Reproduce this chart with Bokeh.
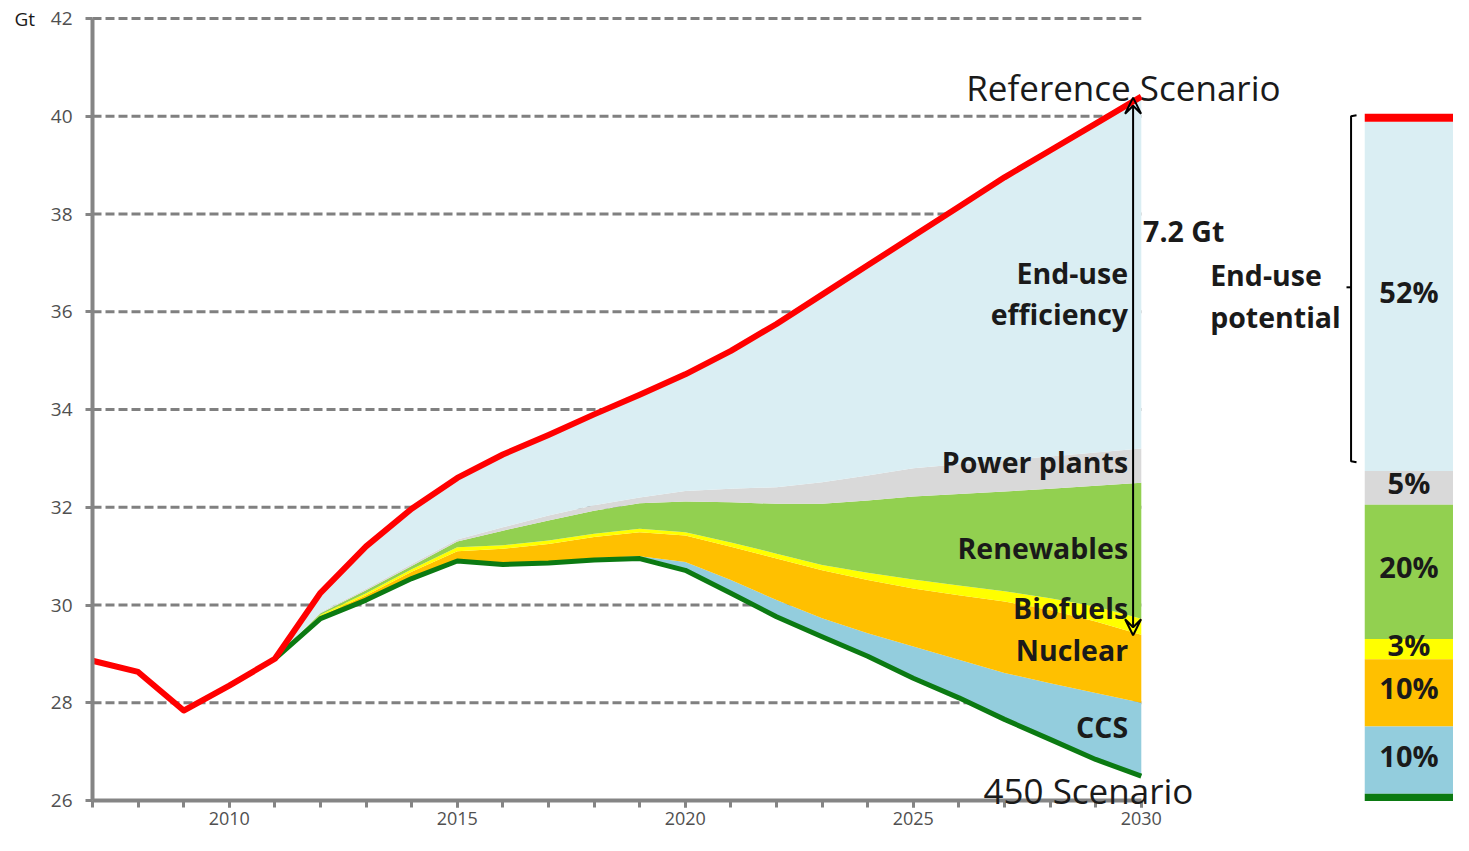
import numpy as np
from bokeh.plotting import figure
from bokeh.models import Label, Arrow, VeeHead, FixedTicker, LinearAxis
from bokeh.embed import file_html
from bokeh.resources import INLINE

# ---------------- data (Gt CO2) ----------------
years_ref = list(range(2007, 2031))
reference = [28.86, 28.63, 27.84, 28.35, 28.90, 30.25, 31.20, 31.97, 32.60, 33.08,
             33.48, 33.90, 34.30, 34.72, 35.20, 35.75, 36.35, 36.95, 37.55, 38.15,
             38.75, 39.30, 39.85, 40.40]

years_450 = list(range(2011, 2031))
scenario_450 = [28.90, 29.72, 30.10, 30.54, 30.90, 30.83, 30.86, 30.92, 30.95, 30.71,
                30.24, 29.76, 29.35, 28.95, 28.50, 28.10, 27.66, 27.25, 26.84, 26.50]
# abatement wedges stacked on top of the 450 Scenario line
ccs = [0.00, 0.01, 0.02, 0.02, 0.03, 0.03, 0.03, 0.04, 0.05, 0.17,
       0.27, 0.34, 0.38, 0.47, 0.65, 0.78, 0.95, 1.15, 1.36, 1.50]
nuclear = [0.00, 0.04, 0.08, 0.12, 0.17, 0.29, 0.36, 0.43, 0.49, 0.54,
           0.68, 0.85, 0.98, 1.09, 1.19, 1.32, 1.46, 1.50, 1.46, 1.39]
biofuels = [0.00, 0.03, 0.04, 0.05, 0.08, 0.07, 0.07, 0.07, 0.07, 0.07,
            0.09, 0.10, 0.11, 0.15, 0.18, 0.20, 0.21, 0.24, 0.31, 0.33]
renewables = [0.00, 0.03, 0.06, 0.07, 0.12, 0.30, 0.41, 0.47, 0.52, 0.63,
              0.82, 1.02, 1.25, 1.48, 1.70, 1.87, 2.04, 2.24, 2.47, 2.78]
power_plants = [0.00, 0.02, 0.03, 0.04, 0.04, 0.07, 0.10, 0.11, 0.12, 0.21,
                0.28, 0.34, 0.44, 0.51, 0.58, 0.61, 0.64, 0.66, 0.68, 0.70]

# share of total abatement in 2030 (right-hand bar), top to bottom
share_labels = ["End-use efficiency", "Power plants", "Renewables", "Biofuels", "Nuclear", "CCS"]
shares = [52, 5, 20, 3, 10, 10]

y_ticks = [26, 28, 30, 32, 34, 36, 38, 40, 42]
x_major = [2010, 2015, 2020, 2025, 2030]

# ---------------- styles ----------------
C_EFF = "#DAEEF3"
C_PP = "#D9D9D9"
C_REN = "#92D050"
C_BIO = "#FFFF00"
C_NUC = "#FFC000"
C_CCS = "#93CDDD"
C_RED = "#FF0000"
C_GRN = "#0B7A12"
AX = "#858585"
TXT = "#1a1a1a"
FONT = "Open Sans"

W, H = 1453, 835
PX_YR, PX_GT = 45.6, 48.875
X0 = 2007 - 92 / PX_YR
Y1 = 42 + 18 / PX_GT

p = figure(width=W, height=H, output_backend="svg", toolbar_location=None,
           x_range=(X0, X0 + W / PX_YR), y_range=(Y1 - H / PX_GT, Y1),
           x_axis_location=None, y_axis_location=None,
           min_border=0, min_border_left=0, min_border_right=0,
           min_border_top=0, min_border_bottom=0)
p.outline_line_color = None
p.grid.visible = False

# dashed gridlines (only across the time axis)
grid_y = [t for t in y_ticks if t > 26]
p.segment(x0=[2007] * len(grid_y), x1=[2030] * len(grid_y), y0=grid_y, y1=grid_y,
          line_color="#808080", line_width=3, line_dash="9 4")

# stacked wedges
base = np.array(scenario_450)
layers = [(ccs, C_CCS), (nuclear, C_NUC), (biofuels, C_BIO), (renewables, C_REN), (power_plants, C_PP)]
lower = base.copy()
for vals, col in layers:
    upper = lower + np.array(vals)
    p.varea(x=years_450, y1=lower, y2=upper, fill_color=col)
    lower = upper
ref_450 = np.array(reference[years_ref.index(2011):])
p.varea(x=years_450, y1=lower, y2=ref_450, fill_color=C_EFF)

# scenario lines
p.line(years_450, scenario_450, line_color=C_GRN, line_width=5, line_join="round")
p.line(years_ref, reference, line_color=C_RED, line_width=6, line_join="round")

# arrow at 2030
p.add_layout(Arrow(start=VeeHead(size=16, line_width=2, line_color="black", fill_color=None),
                   end=VeeHead(size=16, line_width=2, line_color="black", fill_color=None),
                   x_start=2029.82, y_start=29.38, x_end=2029.82, y_end=40.38,
                   line_color="black", line_width=2))

# right-hand share bar
BAR_L, BAR_R = 2034.9, 2036.84
BAR_LO, BAR_HI = 26.14, 39.89
bar_cols = [C_EFF, C_PP, C_REN, C_BIO, C_NUC, C_CCS]
span = BAR_HI - BAR_LO
tops, bots = [], []
cur = BAR_HI
for s in shares:
    tops.append(cur)
    cur = cur - span * s / 100.0
    bots.append(cur)
p.quad(left=BAR_L, right=BAR_R, top=tops, bottom=bots, fill_color=bar_cols, line_color=None)
p.quad(left=BAR_L, right=BAR_R, top=BAR_HI + 0.16, bottom=BAR_HI, fill_color=C_RED, line_color=None)
p.quad(left=BAR_L, right=BAR_R, top=BAR_LO, bottom=BAR_LO - 0.15, fill_color=C_GRN, line_color=None)
for t, b, s in zip(tops, bots, shares):
    p.add_layout(Label(x=(BAR_L + BAR_R) / 2, y=(t + b) / 2 + 0.1, text=f"{s}%", text_align="center",
                       text_baseline="middle", text_font=FONT, text_font_style="bold",
                       text_font_size="29px", text_color=TXT))

# brace for end-use potential
bx = 2034.6
p.multi_line(xs=[[bx + 0.12, bx, bx, bx + 0.12], [bx, bx - 0.1]],
             ys=[[40.02, 40.0, 32.94, 32.92], [36.5, 36.5]],
             line_color="black", line_width=2)

# axes drawn inside the frame at fixed data locations
xa = LinearAxis(fixed_location=26, ticker=FixedTicker(ticks=x_major, minor_ticks=list(range(2007, 2031))),
                bounds=(2007, 2030))
ya = LinearAxis(fixed_location=2007, ticker=FixedTicker(ticks=y_ticks), bounds=(26, 42))
for ax in (xa, ya):
    ax.axis_line_color = AX
    ax.axis_line_width = 4
    ax.major_tick_line_color = AX
    ax.major_tick_line_width = 3
    ax.minor_tick_line_color = AX
    ax.minor_tick_line_width = 3
    ax.major_label_text_font = FONT
    ax.major_label_text_color = "#505050"
xa.major_label_text_font_size = "18px"
ya.major_label_text_font_size = "19px"
xa.major_tick_in = 0
xa.major_tick_out = 7
xa.minor_tick_in = 0
xa.minor_tick_out = 7
xa.major_label_standoff = 4
ya.major_tick_in = 0
ya.major_tick_out = 7
ya.minor_tick_out = 0
ya.minor_tick_in = 0
ya.major_label_standoff = 13
p.add_layout(xa, "below")
p.add_layout(ya, "left")

# texts
def lab(x, y, t, size, align="left", bold=True):
    p.add_layout(Label(x=x, y=y, text=t, text_align=align, text_baseline="middle",
                       text_font=FONT, text_font_size=size, text_color=TXT,
                       text_font_style="bold" if bold else "normal"))

lab(2005.29, 42.0, "Gt", "19px", bold=False)
lab(2026.16, 40.59, "Reference Scenario", "35px", bold=False)
lab(2026.54, 26.2, "450 Scenario", "35px", bold=False)
lab(2030.04, 37.66, "7.2 Gt", "28.5px")
lab(2029.71, 36.80, "End-use", "28.5px", align="right")
lab(2029.71, 35.96, "efficiency", "28.5px", align="right")
lab(2031.51, 36.76, "End-use", "28.5px")
lab(2031.51, 35.90, "potential", "28.5px")
lab(2029.71, 32.92, "Power plants", "28.5px", align="right")
lab(2029.71, 31.16, "Renewables", "28.5px", align="right")
lab(2029.71, 29.93, "Biofuels", "28.5px", align="right")
lab(2029.71, 29.07, "Nuclear", "28.5px", align="right")
lab(2029.71, 27.51, "CCS", "28.5px", align="right")

open("out.html", "w").write(file_html(p, INLINE))
